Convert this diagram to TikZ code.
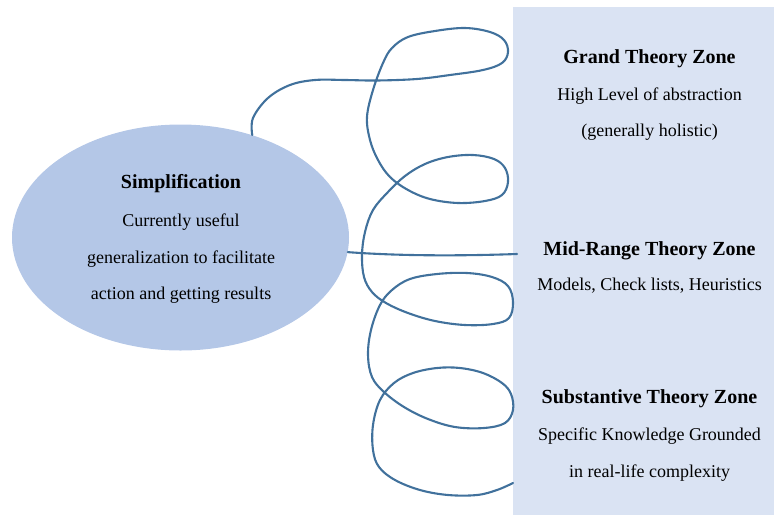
\documentclass[tikz,border=0pt]{standalone}
\usepackage{fontspec}
\setmainfont{Liberation Serif}
\usepackage{tikz}
\usetikzlibrary{shapes}

\definecolor{ellblue}{HTML}{B4C7E7}
\definecolor{zoneblue}{HTML}{DAE3F3}
\definecolor{coilblue}{HTML}{41719C}

\begin{document}
\begin{tikzpicture}[x=1pt, y=-1pt,
 coil/.style={draw=coilblue, line width=2.1pt, line cap=round, line join=round},
 title/.style={anchor=base, inner sep=0pt, font=\fontsize{20}{24}\selectfont\bfseries},
 body/.style={anchor=base, inner sep=0pt, font=\fontsize{18}{22}\selectfont}]

  \useasboundingbox (0,0) rectangle (774,515);

  \node[fill=zoneblue, shape=rectangle, inner sep=0pt, outer sep=0pt,
        minimum width=261pt, minimum height=508pt] (zones) at (643.5,261) {};
  \node[fill=ellblue, ellipse, inner sep=0pt,
        minimum width=337pt, minimum height=226pt] (simp) at (180.5,237.5) {};

  \coordinate (coilend) at (513,483);
  \coordinate (midend) at (517,254);

  \draw[coil] plot[smooth, tension=0.6] coordinates {
    (simp.55) (253,118) (268,98) (290,85) (315,80) (345,80) (377,80.5)
    (417,79) (450,75) (483,70) (502,63) (508,52) (504,40) (490,32)
    (465,28) (435,31) (408,37) (392,48) (383,63) (373,90) (367,117)
    (370,140) (378,160) (390,177) (408,190) (430,199) (458,203) (485,201)
    (502,195) (508,182) (505,168) (494,159) (473,155) (448,157) (425,164)
    (405,176) (388,192) (373,210) (365,232) (362,255) (364,277) (372,292)
    (386,303) (408,313) (435,321) (465,325) (493,324) (509,318) (513,302)
    (508,286) (492,277) (467,273) (437,274) (410,279) (392,290) (380,305)
    (371,330) (368,355) (372,377) (384,392) (404,407) (428,419) (455,427)
    (484,428) (505,423) (513,410) (511,394) (502,383) (483,373) (460,368)
    (437,368) (413,373) (394,383) (380,400) (373,425) (373,450) (379,467)
    (395,480) (420,490) (448,495) (477,495) (497,490) (coilend)};
  \draw[coil] (simp.-5) .. controls (400,256) and (460,256) .. (midend);

  \node[title] (simptitle) at (181,188.5) {Simplification};
  \node[body] (simpa) at (181,226) {Currently useful};
  \node[body] (simpb) at (181,263) {generalization to facilitate};
  \node[body] (simpc) at (181,299.5) {action and getting results};

  \node[title] (grand) at (649.5,63) {Grand Theory Zone};
  \node[body] (granda) at (649.5,100) {High Level of abstraction};
  \node[body] (grandb) at (649.5,136.5) {(generally holistic)};

  \node[title] (mid) at (649.5,255) {Mid-Range Theory Zone};
  \node[body] (mida) at (649.5,290.5) {Models, Check lists, Heuristics};

  \node[title] (subst) at (649.5,403.5) {Substantive Theory Zone};
  \node[body] (substa) at (649.5,440.5) {Specific Knowledge Grounded};
  \node[body] (substb) at (649.5,477) {in real-life complexity};
\end{tikzpicture}
\end{document}
